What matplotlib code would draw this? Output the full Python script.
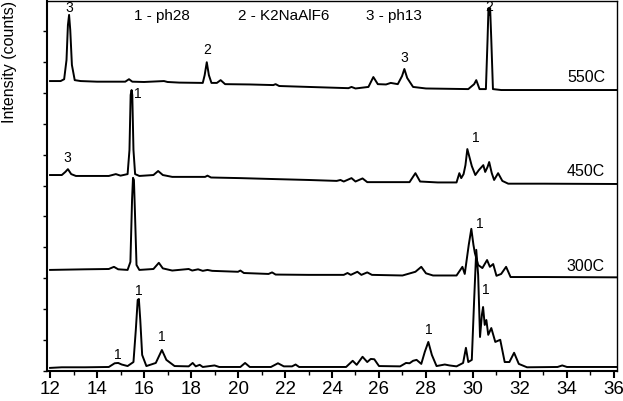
import matplotlib
matplotlib.use("Agg")
import matplotlib.pyplot as plt
from matplotlib.ticker import MultipleLocator

plt.rcParams["font.family"] = ["Liberation Sans", "DejaVu Sans"]

# 2-theta (deg) and intensity above each trace's own start level
tt_550 = [12.0, 12.45, 12.6, 12.7, 12.76, 12.81, 12.86, 12.93, 13.05, 13.3,
          14.0, 15.2, 15.36, 15.5, 16.0, 16.85, 17.0, 17.5, 18.5, 18.58,
          18.67, 18.76, 18.87, 19.1, 19.26, 19.45, 20.5, 21.5, 21.6, 21.75,
          23.0, 24.7, 24.83, 25.0, 25.55, 25.76, 25.95, 26.3, 26.5, 26.8,
          26.98, 27.08, 27.2, 27.45, 28.0, 29.8, 30.05, 30.14, 30.28, 30.55,
          30.62, 30.66, 30.70, 30.73, 30.78, 30.85, 31.2, 33.0, 36.1]
int_550 = [0, 0, 0.06, 0.68, 1.81, 2.14, 1.65, 0.52, 0.03, 0,
           -0.02, -0.02, 0.06, -0.02, -0.03, 0, -0.03, -0.05, -0.06, 0.19,
           0.61, 0.19, -0.06, -0.06, 0.03, -0.10, -0.11, -0.13, -0.10, -0.16,
           -0.19, -0.23, -0.19, -0.24, -0.19, 0.13, -0.10, -0.11, -0.06, -0.10,
           0.16, 0.39, 0.10, -0.19, -0.24, -0.26, -0.10, 0.03, -0.26, -0.26,
           1.33, 2.36, 2.14, 2.36, 1.33, -0.26, -0.29, -0.29, -0.29]

tt_450 = [12.0, 12.5, 12.65, 12.76, 12.9, 13.1, 14.5, 14.8, 15.0, 15.3,
          15.38, 15.43, 15.47, 15.50, 15.55, 15.62, 15.8, 16.4, 16.6, 16.8,
          17.2, 18.6, 18.7, 18.85, 20.1, 21.5, 23.0, 24.2, 24.36, 24.5,
          24.83, 25.0, 25.3, 25.5, 27.3, 27.55, 27.75, 28.5, 29.3, 29.42,
          29.5, 29.6, 29.68, 29.76, 29.85, 29.95, 30.1, 30.25, 30.44, 30.52,
          30.62, 30.69, 30.8, 30.9, 31.07, 31.25, 31.5, 33.0, 36.1]
int_450 = [0, 0, 0.10, 0.19, 0.03, -0.03, -0.03, 0.03, -0.02, 0.03,
           0.81, 2.59, 2.75, 2.59, 0.81, 0.03, -0.03, 0, 0.13, 0,
           -0.06, -0.06, -0.02, -0.08, -0.10, -0.13, -0.16, -0.19, -0.16, -0.21,
           -0.10, -0.21, -0.11, -0.23, -0.23, 0.06, -0.21, -0.24, -0.24, 0.06,
           -0.10, 0.03, 0.32, 0.84, 0.58, 0.29, 0, 0.16, 0.32, 0.10,
           0.26, 0.42, 0.06, -0.16, 0.06, -0.19, -0.28, -0.28, -0.29]

tt_300 = [12.0, 13.5, 14.5, 14.72, 14.9, 15.3, 15.42, 15.49, 15.53, 15.57,
          15.61, 15.68, 15.8, 16.4, 16.63, 16.8, 17.2, 17.9, 18.05, 18.3,
          18.5, 18.7, 18.9, 20.0, 20.1, 20.25, 21.3, 21.45, 21.6, 23.0,
          24.5, 24.66, 24.8, 25.08, 25.25, 25.5, 25.7, 27.0, 27.55, 27.8,
          28.0, 28.3, 29.3, 29.55, 29.65, 29.82, 29.93, 30.02, 30.08, 30.22,
          30.4, 30.6, 30.72, 30.86, 31.0, 31.2, 31.41, 31.6, 33.0, 36.1]
int_300 = [0, 0.02, 0.03, 0.10, 0.02, 0, 0.26, 2.27, 2.98, 2.91,
           1.94, 0.16, 0, 0.03, 0.23, 0.05, -0.02, 0.03, -0.02, 0.02,
           -0.03, 0, -0.03, -0.06, -0.02, -0.10, -0.13, -0.08, -0.15, -0.16,
           -0.16, -0.10, -0.16, -0.06, -0.16, -0.08, -0.16, -0.18, -0.06, 0.10,
           -0.11, -0.18, -0.18, 0.10, -0.13, 0.81, 1.33, 0.81, 0.55, 0.16,
           0.06, 0.32, 0.10, 0.19, -0.19, -0.13, 0.10, -0.23, -0.23, -0.24]

tt_low = [12.0, 12.5, 13.5, 14.5, 14.75, 14.9, 15.05, 15.3, 15.55, 15.65,
          15.73, 15.78, 15.84, 15.92, 16.1, 16.5, 16.76, 16.95, 17.3, 17.9,
          18.07, 18.2, 18.37, 18.5, 19.0, 19.2, 20.1, 20.3, 20.5, 21.4,
          21.7, 21.95, 22.3, 22.45, 22.6, 24.6, 24.88, 25.05, 25.3, 25.5,
          25.65, 25.8, 26.0, 26.9, 27.15, 27.3, 27.45, 27.6, 27.8, 27.95,
          28.1, 28.25, 28.45, 28.8, 29.0, 29.3, 29.58, 29.7, 29.8, 29.95,
          30.05, 30.14, 30.22, 30.3, 30.38, 30.43, 30.5, 30.57, 30.65, 30.78,
          30.95, 31.16, 31.35, 31.55, 31.75, 31.95, 32.3, 33.6, 33.8, 34.0,
          36.1]
int_low = [0, 0.02, 0.02, 0.03, 0.15, 0.16, 0.11, 0.06, 0.19, 1.23,
           2.20, 2.23, 1.55, 0.42, 0.06, 0.16, 0.58, 0.26, 0.06, 0.05,
           0.16, 0.05, 0.10, 0.03, 0.08, 0.03, 0.03, 0.16, 0.03, 0.03,
           0.15, 0.05, 0.05, 0.11, 0.03, 0.03, 0.23, 0.10, 0.36, 0.19,
           0.29, 0.28, 0.06, 0.05, 0.16, 0.15, 0.23, 0.26, 0.13, 0.52,
           0.84, 0.42, 0.06, 0.11, 0.08, 0.05, 0.16, 0.65, 0.19, 0.26,
           2.20, 3.82, 3.01, 1.00, 1.72, 1.97, 1.39, 1.55, 1.07, 1.29,
           0.84, 0.91, 0.19, 0.19, 0.49, 0.13, 0.02, 0.03, 0.08, 0.03,
           0.03]

traces = [
    ("550C", tt_550, int_550, 9.38),
    ("450C", tt_450, int_450, 6.34),
    ("300C", tt_300, int_300, 3.27),
    ("", tt_low, int_low, 0.10),
]

# phase marks: (2theta, y, label)
peak_marks = [
    (12.81, 11.75, "3"), (18.67, 10.39, "2"), (27.08, 10.13, "3"), (30.69, 11.78, "2"),
    (12.72, 6.89, "3"), (15.72, 8.96, "1"), (30.10, 7.54, "1"),
    (30.31, 4.76, "1"),
    (14.89, 0.52, "1"), (15.78, 2.59, "1"), (16.76, 1.10, "1"),
    (28.10, 1.33, "1"), (30.56, 2.62, "1"),
]
phase_keys = [(16.76, "1 - ph28"), (21.96, "2 - K2NaAlF6"), (26.63, "3 - ph13")]

fig = plt.figure(figsize=(6.23, 4.01), dpi=100)
ax = fig.add_axes([47 / 623, 30 / 401, 570 / 623, 370 / 401])

for name, tt, inten, off in traces:
    ax.plot(tt, [v + off for v in inten], color="black", lw=1.4)
    if name:
        ax.text(35.62, off + 0.12, name, ha="right", va="center", fontsize=11.5)

for x, y, lab in peak_marks:
    ax.text(x, y, lab, ha="center", va="center", fontsize=10)
for x, lab in phase_keys:
    ax.text(x, 11.49, lab, ha="center", va="center", fontsize=11)

ax.set_xlim(11.87, 36.13)
ax.set_ylim(0, 11.97)
ax.xaxis.set_major_locator(MultipleLocator(2))
ax.xaxis.set_minor_locator(MultipleLocator(1))
ax.set_yticks(range(0, 12))
ax.set_yticklabels([])
ax.tick_params(axis="x", which="major", direction="out", length=5, width=1.5,
               labelsize=13.5, pad=2)
ax.tick_params(axis="x", which="minor", direction="out", length=3, width=1)
ax.tick_params(axis="y", direction="out", length=3, width=1)
for side in ["left", "bottom"]:
    ax.spines[side].set_linewidth(1.5)
for side in ["top", "right"]:
    ax.spines[side].set_linewidth(1.0)

fig.text(10 / 623, 1 - 61.5 / 401, "Intensity (counts)", rotation=90,
         ha="center", va="center", fontsize=11.5)

fig.savefig("out.png", dpi=100)
